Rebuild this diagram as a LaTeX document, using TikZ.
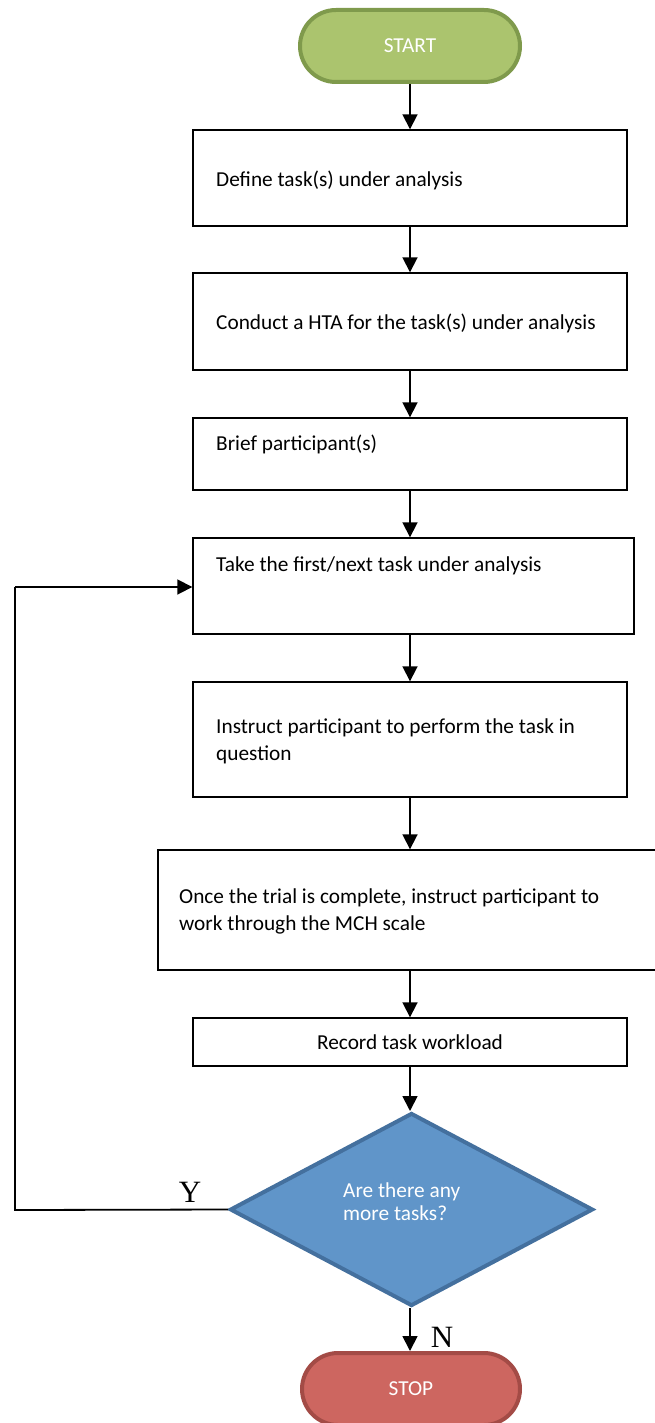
\documentclass[tikz,border=0pt]{standalone}
\usepackage{fontspec}
\setmainfont{Carlito}
\newfontfamily\yfont{Liberation Serif}
\usetikzlibrary{shapes.geometric,arrows.meta}
\definecolor{startfill}{HTML}{ABC46E}
\definecolor{startdraw}{HTML}{7F9A4C}
\definecolor{stopfill}{HTML}{CD6660}
\definecolor{stopdraw}{HTML}{A34B46}
\definecolor{decfill}{HTML}{6095C9}
\definecolor{decdraw}{HTML}{44709E}
\begin{document}
\begin{tikzpicture}[x=1pt,y=-1pt,
  every node/.style={font=\fontsize{21.3}{27}\selectfont},
  boxnode/.style={draw=black, line width=1.4pt, rectangle, inner sep=0pt},
  txt/.style={anchor=west, align=left, inner sep=0pt},
  term/.style={rectangle, rounded corners=36pt, line width=4pt, minimum width=#1, minimum height=72pt, inner sep=0pt, text=white},
  conn/.style={line width=1.8pt, -{Triangle[width=15pt,length=15pt]}},
  yn/.style={font=\yfont\fontsize{31}{31}\selectfont, inner sep=0pt}
]
\useasboundingbox (0,0) rectangle (654,1423);

\node[term=220pt, fill=startfill, draw=startdraw] (start) at (410,46) {START};

\node[boxnode, minimum width=434pt, minimum height=96pt] (b1) at (410,178) {};
\node[txt] (t1) at (216,180) {Define task(s) under analysis};

\node[boxnode, minimum width=434pt, minimum height=97pt] (b2) at (410,321.5) {};
\node[txt] (t2) at (216,323) {Conduct a HTA for the task(s) under analysis};

\node[boxnode, minimum width=434pt, minimum height=72pt] (b3) at (410,454) {};
\node[txt] (t3) at (216,444) {Brief participant(s)};

\node[boxnode, minimum width=441pt, minimum height=96pt] (b4) at (413.5,586) {};
\node[txt] (t4) at (216,566) {Take the first/next task under analysis};

\node[boxnode, minimum width=434pt, minimum height=115pt] (b5) at (410,739.5) {};
\node[txt] (t5) at (216,741) {Instruct participant to perform the task in\\question};

\node[boxnode, minimum width=500pt, minimum height=120pt] (b6) at (408,910) {};
\node[txt] (t6) at (179,911) {Once the trial is complete, instruct participant to\\work through the MCH scale};

\node[boxnode, minimum width=434pt, minimum height=48pt] (b7) at (410,1042) {};
\node[inner sep=0pt] (t7) at (410,1042) {Record task workload};

\node[diamond, fill=decfill, draw=decdraw, line width=4pt, minimum width=363pt, minimum height=193pt, inner sep=0pt] (dec) at (411.5,1209.5) {};
\node[txt, text=white, font=\fontsize{21.3}{23}\selectfont] (t8) at (343,1202) {Are there any\\more tasks?};

\node[term=218pt, fill=stopfill, draw=stopdraw] (stop) at (411,1389) {STOP};

\coordinate (lb) at (15,1210);
\coordinate (lt) at (15,587);

\draw[conn] (start.south -| b1.north) -- (b1.north);
\draw[conn] (b1) -- (b2);
\draw[conn] (b2) -- (b3);
\draw[conn] (b3.south) -- (b3.south |- b4.north);
\draw[conn] (b3.south |- b4.south) -- (b5.north);
\draw[conn] (b5.south) -- (b5.south |- b6.north);
\draw[conn] (b5.south |- b6.south) -- (b7.north);
\draw[conn] (b7.south) -- (b7.south |- dec.north);
\draw[conn] (b7.south |- dec.south) -- (b7.south |- stop.north);
\draw[line width=1.8pt] (dec.west) -- (lb) -- (lt);
\draw[conn] (lt) -- (lt -| b4.west);

\node[yn] (ylab) at (190,1192) {Y};
\node[yn] (nlab) at (442,1337) {N};
\end{tikzpicture}
\end{document}
